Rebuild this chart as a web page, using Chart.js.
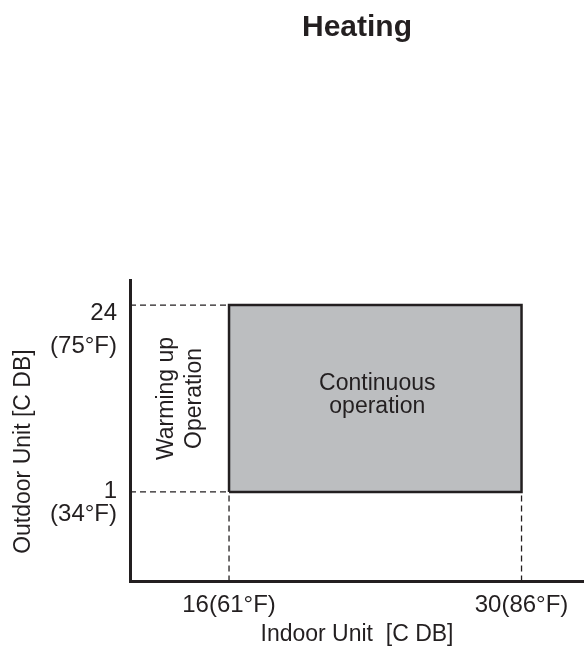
<!DOCTYPE html>
<html lang="en">
<head>
<meta charset="UTF-8"/>
<title>Heating</title>
<script src="https://cdn.jsdelivr.net/npm/chart.js@4/dist/chart.umd.min.js"></script>
<style>
  *{box-sizing:border-box;margin:0;padding:0}
  body{background:#fff;width:584px;height:662px;overflow:hidden}
  .wrap{position:relative;width:584px;height:662px}
</style>
</head>
<body>
<div class="wrap"><canvas id="chart"></canvas></div>
<script>
// ── Data ─────────────────────────────────────────────────────────────
const chartTitle  = 'Heating';
const xTitle      = 'Indoor Unit  [C DB]';
const yTitle      = 'Outdoor Unit [C DB]';
const xTicks      = [16, 30];
const xTickLabels = ['16(61°F)', '30(86°F)'];
const yTicks      = [24, 1];
const yTickLabels = [['24', '(75°F)'], ['1', '(34°F)']];
const xRange      = [11.26, 32.99];
const yRange      = [-10.04, 27.08];
// continuous operation zone: indoor 16..30 C, outdoor 1..24 C
const zoneX       = [16, 30];
const zoneY       = [1, 24];
const zoneText    = ['Continuous', 'operation'];
const warmText    = ['Warming up', 'Operation'];

// ── Style ────────────────────────────────────────────────────────────
const INK  = '#231f20';
const FONT = "'Liberation Sans', Arial, Helvetica, sans-serif";
const Y_LABEL_NUDGE = [[15, 48], [6, 29]]; // baseline offsets below each y tick

Chart.defaults.font.family = FONT;
Chart.defaults.color = INK;

const zonePoly = [
  { x: zoneX[0], y: zoneY[0] }, { x: zoneX[0], y: zoneY[1] },
  { x: zoneX[1], y: zoneY[1] }, { x: zoneX[1], y: zoneY[0] },
  { x: zoneX[0], y: zoneY[0] },
];

const guides = [
  ...zoneY.map(v => [{ x: xRange[0], y: v }, { x: zoneX[0], y: v }]),
  ...zoneX.map(v => [{ x: v, y: yRange[0] }, { x: v, y: zoneY[0] }]),
].map(d => ({
  data: d, borderColor: INK, borderWidth: 1.3, borderDash: [6, 4],
  pointRadius: 0, fill: false, tension: 0,
}));

const textPlugin = {
  id: 'chartText',
  afterDatasetsDraw(chart) {
    const { ctx, chartArea: a, scales: { x, y } } = chart;
    ctx.save();
    ctx.fillStyle = INK;

    // y tick labels (two lines each)
    ctx.font = `24px ${FONT}`;
    ctx.textAlign = 'right';
    ctx.textBaseline = 'alphabetic';
    yTicks.forEach((v, i) => {
      const py = y.getPixelForValue(v);
      ctx.fillText(yTickLabels[i][0], a.left - 13, py + Y_LABEL_NUDGE[i][0]);
      ctx.fillText(yTickLabels[i][1], a.left - 13, py + Y_LABEL_NUDGE[i][1]);
    });

    // zone label
    const zx = (x.getPixelForValue(zoneX[0]) + x.getPixelForValue(zoneX[1])) / 2;
    const zy = (y.getPixelForValue(zoneY[0]) + y.getPixelForValue(zoneY[1])) / 2;
    ctx.font = `23px ${FONT}`;
    ctx.textAlign = 'center';
    ctx.fillText(zoneText[0], zx + 2, zy - 8);
    ctx.fillText(zoneText[1], zx + 2, zy + 15);

    // warming up label (rotated)
    const wx = (a.left + x.getPixelForValue(zoneX[0])) / 2;
    ctx.save();
    ctx.translate(wx, zy);
    ctx.rotate(-Math.PI / 2);
    ctx.textBaseline = 'middle';
    ctx.fillText(warmText[0], 0, -13);
    ctx.fillText(warmText[1], 0, 15);
    ctx.restore();

    // y axis title
    ctx.save();
    ctx.translate(24, a.bottom - 130);
    ctx.rotate(-Math.PI / 2);
    ctx.textAlign = 'center';
    ctx.textBaseline = 'middle';
    ctx.fillText(yTitle, 0, 0);
    ctx.restore();

    ctx.restore();
  }
};

new Chart(document.getElementById('chart'), {
  type: 'line',
  data: {
    datasets: [
      {
        data: zonePoly, borderColor: INK, borderWidth: 2.5, backgroundColor: '#bcbec0',
        fill: 'shape', pointRadius: 0, tension: 0, borderJoinStyle: 'miter',
      },
      ...guides,
    ]
  },
  options: {
    responsive: true,
    maintainAspectRatio: false,
    animation: false,
    layout: { padding: { left: 130, top: 0, right: 0, bottom: 0 } },
    plugins: {
      legend: { display: false },
      tooltip: { enabled: false },
      title: {
        display: true, text: chartTitle, fullSize: false, color: INK,
        font: { size: 30, weight: 'bold' }, padding: { top: 10, bottom: 234 },
      },
    },
    scales: {
      x: {
        type: 'linear', min: xRange[0], max: xRange[1],
        afterBuildTicks: s => { s.ticks = xTicks.map(v => ({ value: v })); },
        grid: { display: false, drawTicks: false },
        border: { display: true, color: INK, width: 3 },
        ticks: {
          color: INK, font: { size: 24 }, padding: 9, maxRotation: 0, autoSkip: false,
          callback: (v, i) => xTickLabels[i],
        },
        title: {
          display: true, text: xTitle, color: INK, font: { size: 23 },
          padding: { top: -8, bottom: 14 },
        },
      },
      y: {
        type: 'linear', min: yRange[0], max: yRange[1],
        grid: { display: false, drawTicks: false },
        border: { display: true, color: INK, width: 3 },
        ticks: { display: false },
      },
    },
  },
  plugins: [textPlugin],
});
</script>
</body>
</html>
